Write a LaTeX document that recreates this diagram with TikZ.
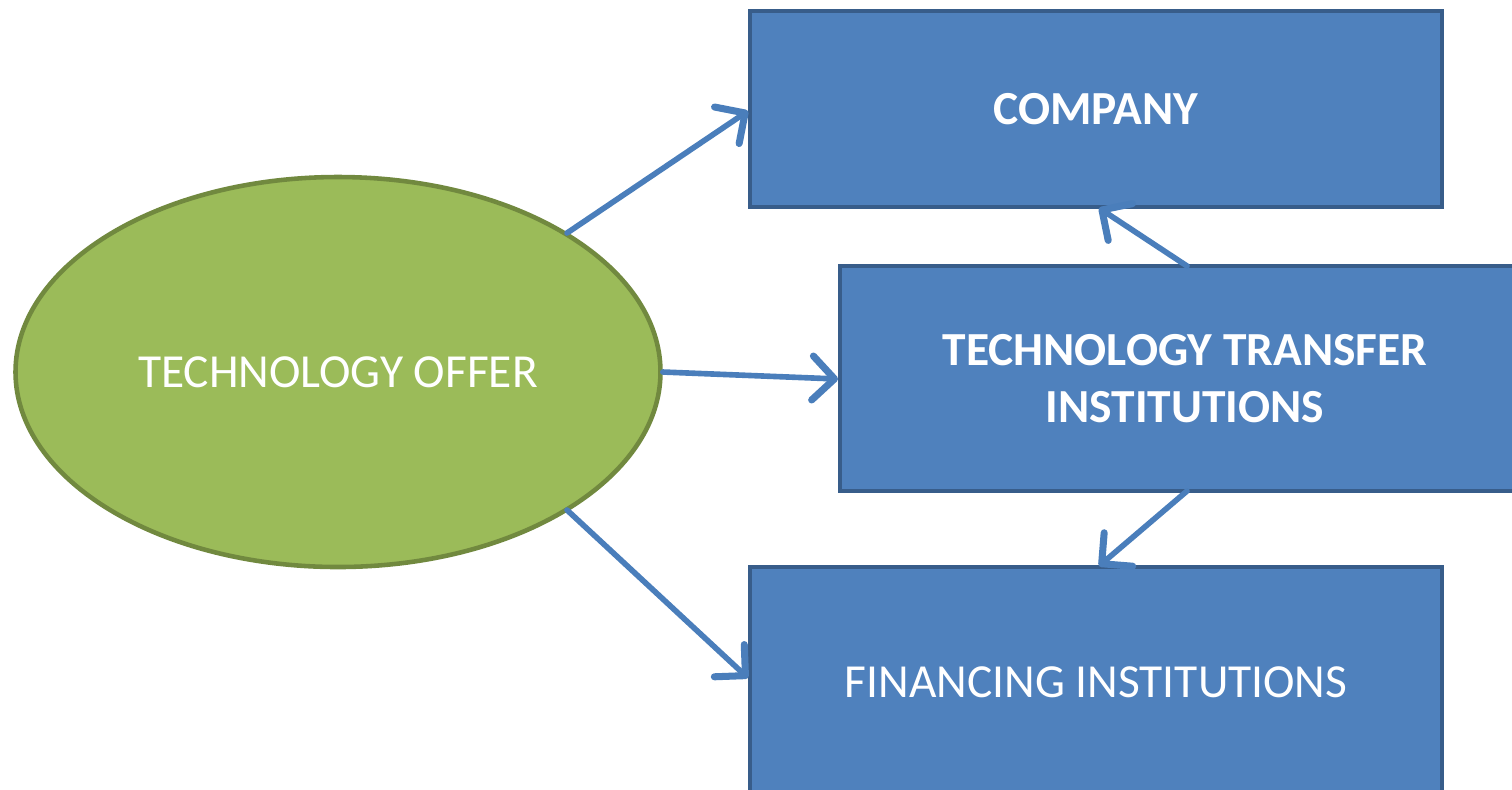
\documentclass[tikz,border=0pt]{standalone}
\usepackage{fontspec}
\setmainfont{Carlito}
\usetikzlibrary{arrows.meta,shapes.geometric}
\definecolor{boxBlue}{HTML}{4F81BD}
\definecolor{boxEdge}{HTML}{385D8A}
\definecolor{offerGreen}{HTML}{9BBB59}
\definecolor{offerEdge}{HTML}{71893F}
\definecolor{linkBlue}{HTML}{4A7EBB}
\begin{document}
\begin{tikzpicture}
        [x=0.1mm, y=-0.1mm,
        box/.style={rectangle,draw=boxEdge,fill=boxBlue,line width=1.2pt, text=white, font=\fontsize{13.5}{16.2}\selectfont, align=center, inner sep=0pt},
        offer/.style={ellipse,draw=offerEdge,fill=offerGreen,line width=1.3pt, text=white, font=\fontsize{13.5}{16.2}\selectfont, inner sep=0pt, minimum width=6.45cm, minimum height=3.9cm},
        link/.style={draw=linkBlue, line width=1.6pt, line cap=round, -{Straight Barb[length=2.2mm,width=4.4mm,round,line width=2pt]}}]
        \useasboundingbox (0,0) rectangle (1512,789);
        \clip (0,0) rectangle (1512,789);
        \node[offer] (O) at (338,372) {TECHNOLOGY OFFER};
        \node[box, minimum width=6.92cm, minimum height=1.96cm] (C) at (1096,109) {\bfseries COMPANY};
        \node[box, minimum width=6.9cm, minimum height=2.25cm] (T) at (1185,378.5) {\bfseries TECHNOLOGY TRANSFER\\ \bfseries INSTITUTIONS};
        \node[box, minimum width=6.92cm, minimum height=2.3cm] (F) at (1096,682) {FINANCING INSTITUTIONS};
        
        \coordinate (OC) at (567,233);
        \coordinate (OF) at (567,510);
        \coordinate (TC) at (1187,266);
        \coordinate (TF) at (1187,491);
        
        \draw[link] (OC) -- (748,111);
        \draw[link] (O.east) -- (838,379);
        \draw[link] (OF) -- (748,678);
        \draw[link] (TC) -- (1099,208);
        \draw[link] (TF) -- (1099,566);
    
    \end{tikzpicture}
\end{document}
